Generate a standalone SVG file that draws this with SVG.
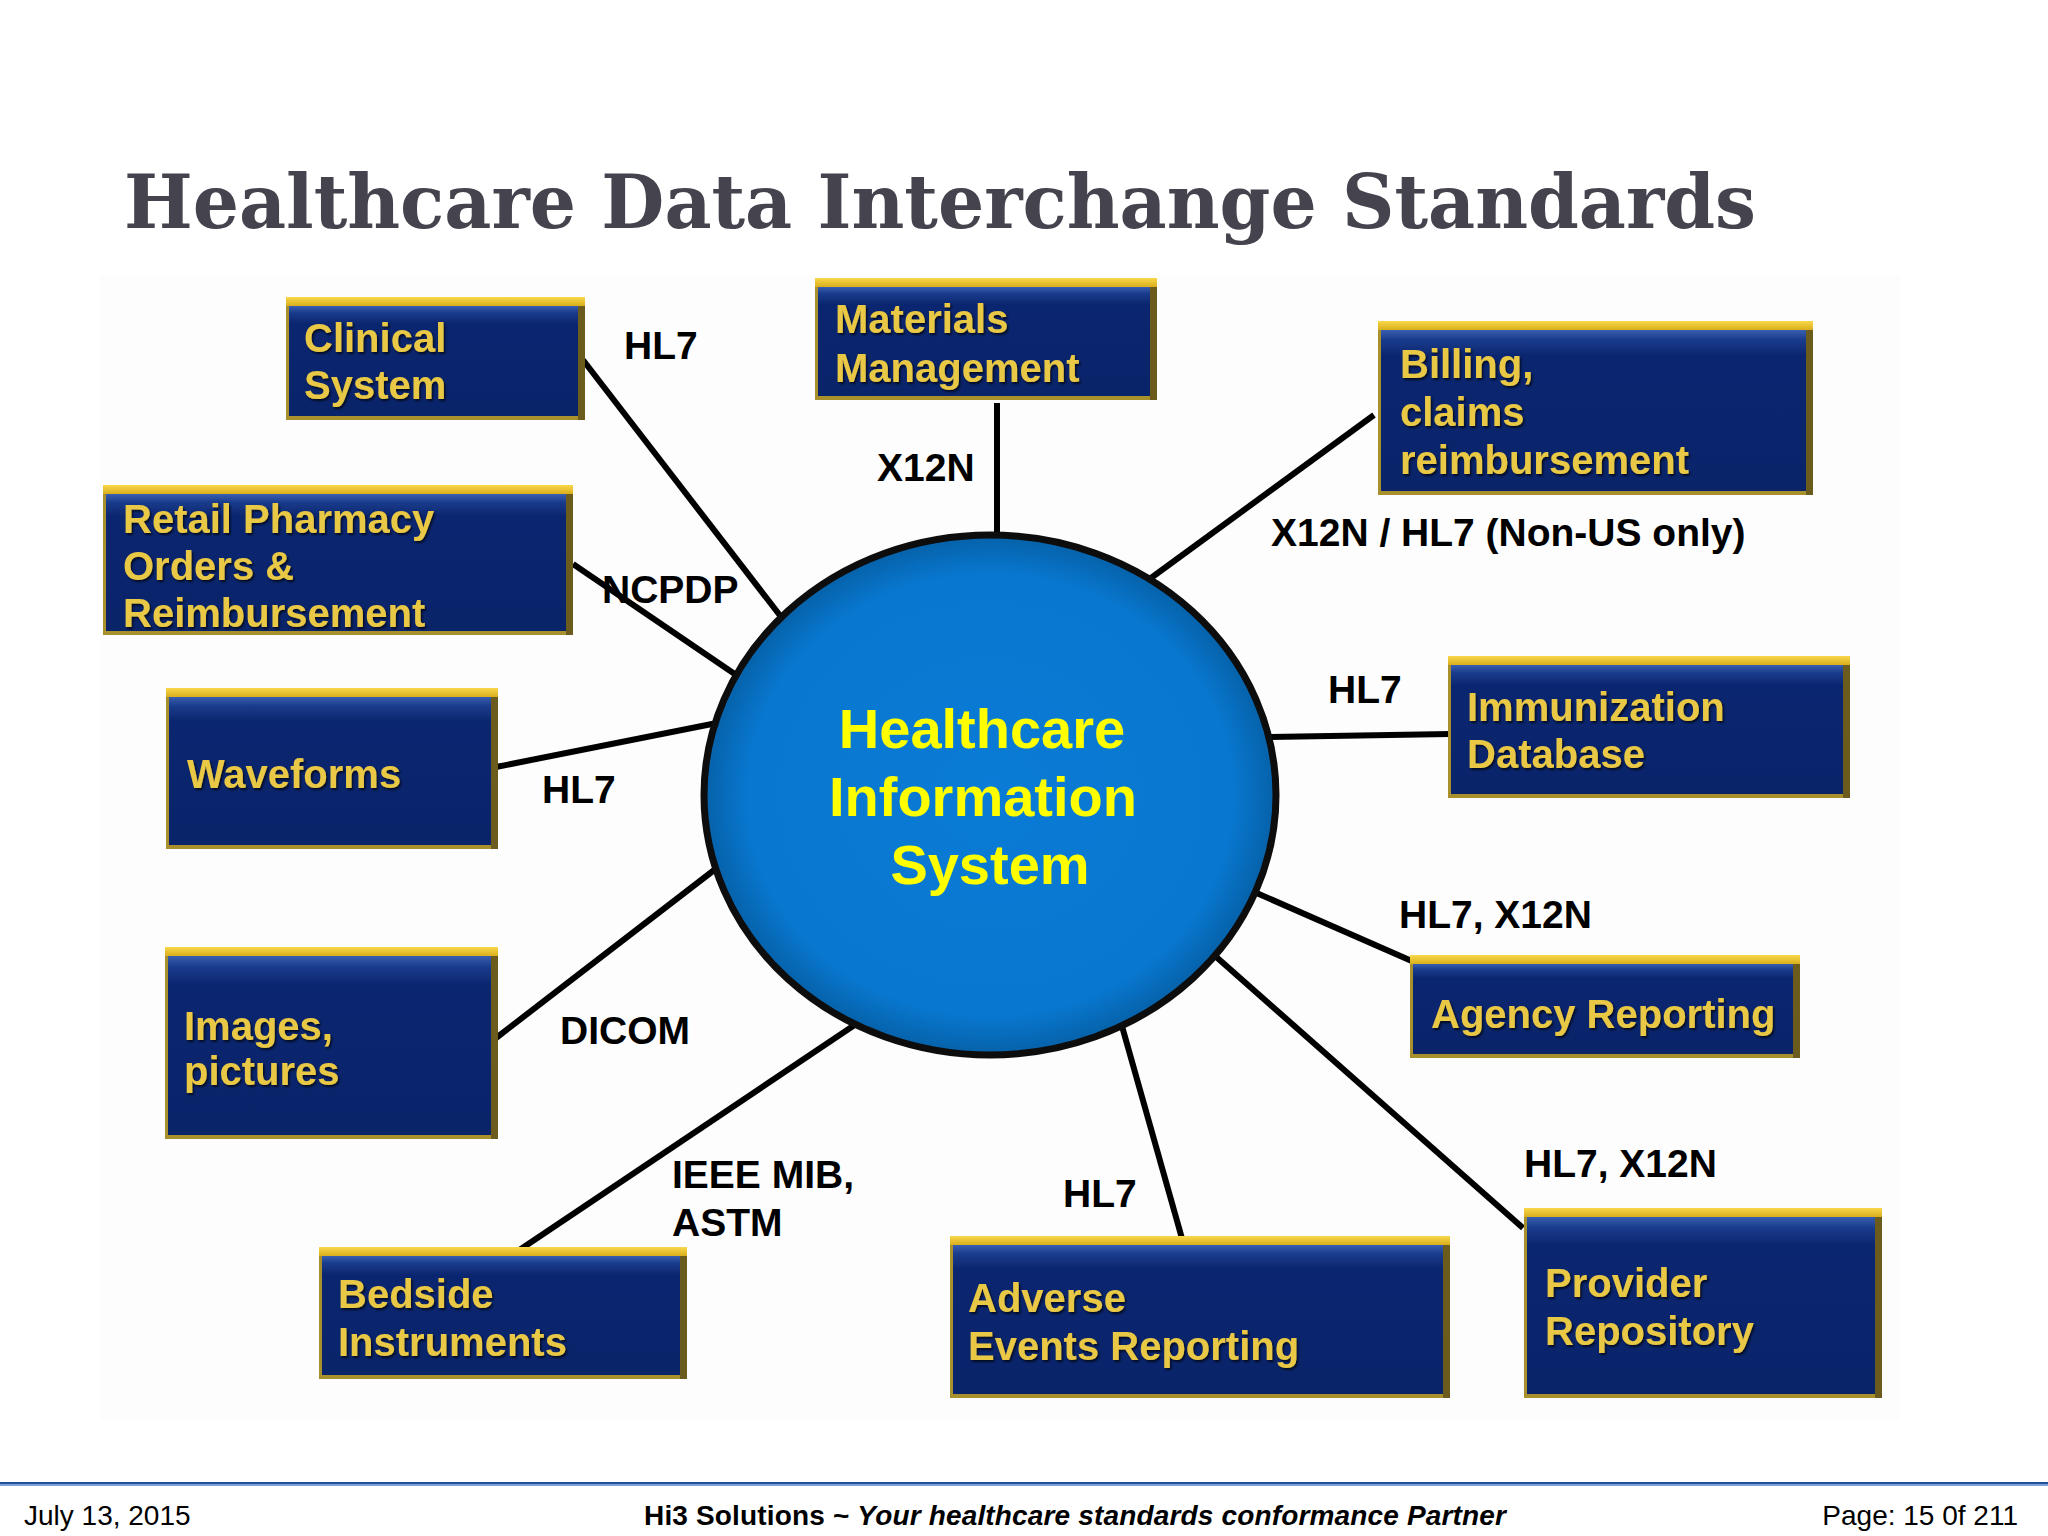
<svg xmlns="http://www.w3.org/2000/svg" width="2048" height="1536" viewBox="0 0 2048 1536">
<defs>
<linearGradient id="gold" x1="0" y1="0" x2="0" y2="1">
<stop offset="0" stop-color="#f9d84a"/><stop offset="1" stop-color="#d9ae1c"/>
</linearGradient>
<linearGradient id="navy" x1="0" y1="0" x2="0" y2="1">
<stop offset="0" stop-color="#3a5fb0"/><stop offset="0.06" stop-color="#1a3c8c"/><stop offset="0.16" stop-color="#0b2670"/><stop offset="1" stop-color="#0a246a"/>
</linearGradient>
<radialGradient id="ball" cx="0.5" cy="0.5" r="0.5">
<stop offset="0" stop-color="#0a7bd6"/><stop offset="0.85" stop-color="#0877cf"/><stop offset="1" stop-color="#0661a8"/>
</radialGradient>
<filter id="sh" x="-5%" y="-20%" width="110%" height="140%">
<feDropShadow dx="1.5" dy="2" stdDeviation="1" flood-color="#000" flood-opacity="0.7"/>
</filter>
</defs>
<style>
.frame{fill:#a8902c}
.rside{fill:#6b5b1c}
.top{fill:url(#gold)}
.inner{fill:url(#navy)}
.bt{font-family:"Liberation Sans",Arial,sans-serif;font-weight:bold;font-size:40px;fill:#e9c845;filter:url(#sh)}
.lbl{font-family:"Liberation Sans",Arial,sans-serif;font-weight:bold;font-size:39px;fill:#000}
.con{stroke:#000;stroke-width:6;fill:none}
.ct{font-family:"Liberation Sans",Arial,sans-serif;font-weight:bold;font-size:56px;fill:#ffff00;text-anchor:middle}
.ft{font-family:"Liberation Sans",Arial,sans-serif;font-size:28px;fill:#000}
</style>
<rect width="2048" height="1536" fill="#fff"/>
<rect x="100" y="275" width="1800" height="1145" fill="#fdfdfd"/>
<text x="124" y="228" font-family="DejaVu Serif, Liberation Serif, serif" font-weight="bold" font-size="75" fill="#45444e" textLength="1632" lengthAdjust="spacingAndGlyphs">Healthcare Data Interchange Standards</text>

<g id="connectors">
<line class="con" x1="583" y1="360" x2="785" y2="622"/>
<line class="con" x1="997" y1="403" x2="997" y2="545"/>
<line class="con" x1="1374" y1="415" x2="1140" y2="586"/>
<line class="con" x1="573" y1="564" x2="745" y2="681"/>
<line class="con" x1="496" y1="767" x2="722" y2="722"/>
<line class="con" x1="1450" y1="734" x2="1265" y2="737"/>
<line class="con" x1="496" y1="1038" x2="722" y2="864"/>
<line class="con" x1="1414" y1="962" x2="1252" y2="891"/>
<line class="con" x1="509" y1="1257" x2="865" y2="1018"/>
<line class="con" x1="1183" y1="1242" x2="1116" y2="1005"/>
<line class="con" x1="1523" y1="1228" x2="1205" y2="947"/>
</g>

<g id="labels">
<text class="lbl" x="624" y="359">HL7</text>
<text class="lbl" x="877" y="481">X12N</text>
<text class="lbl" x="1271" y="546" font-size="40">X12N / HL7 (Non-US only)</text>
<text class="lbl" x="602" y="603">NCPDP</text>
<text class="lbl" x="1328" y="703">HL7</text>
<text class="lbl" x="542" y="803">HL7</text>
<text class="lbl" x="1399" y="928">HL7, X12N</text>
<text class="lbl" x="560" y="1044">DICOM</text>
<text class="lbl" x="672" y="1188">IEEE MIB,</text>
<text class="lbl" x="672" y="1236">ASTM</text>
<text class="lbl" x="1063" y="1207">HL7</text>
<text class="lbl" x="1524" y="1177">HL7, X12N</text>
</g>

<g id="center">
<ellipse cx="990" cy="795" rx="286" ry="260" fill="url(#ball)" stroke="#0d0d0d" stroke-width="7"/>
<text class="ct" x="982" y="748">Healthcare</text>
<text class="ct" x="983" y="816">Information</text>
<text class="ct" x="990" y="884">System</text>
</g>

<g id="clinical">
<rect class="frame" x="286" y="297" width="299" height="123"/>
<rect class="rside" x="578" y="297" width="7" height="123"/>
<rect class="inner" x="289" y="306" width="289" height="110"/>
<rect class="top" x="286" y="297" width="299" height="9"/>
<text class="bt" x="304" y="352">Clinical</text>
<text class="bt" x="304" y="399">System</text>
</g>

<g id="materials">
<rect class="frame" x="815" y="278" width="342" height="122"/>
<rect class="rside" x="1150" y="278" width="7" height="122"/>
<rect class="inner" x="818" y="287" width="332" height="109"/>
<rect class="top" x="815" y="278" width="342" height="9"/>
<text class="bt" x="835" y="333">Materials</text>
<text class="bt" x="835" y="382">Management</text>
</g>

<g id="billing">
<rect class="frame" x="1378" y="321" width="435" height="174"/>
<rect class="rside" x="1806" y="321" width="7" height="174"/>
<rect class="inner" x="1381" y="330" width="425" height="161"/>
<rect class="top" x="1378" y="321" width="435" height="9"/>
<text class="bt" x="1400" y="378">Billing,</text>
<text class="bt" x="1400" y="426">claims</text>
<text class="bt" x="1400" y="474">reimbursement</text>
</g>

<g id="retail">
<rect class="frame" x="103" y="485" width="470" height="150"/>
<rect class="rside" x="566" y="485" width="7" height="150"/>
<rect class="inner" x="106" y="494" width="460" height="137"/>
<rect class="top" x="103" y="485" width="470" height="9"/>
<text class="bt" x="123" y="533">Retail Pharmacy</text>
<text class="bt" x="123" y="580">Orders &amp;</text>
<text class="bt" x="123" y="627">Reimbursement</text>
</g>

<g id="waveforms">
<rect class="frame" x="166" y="688" width="332" height="161"/>
<rect class="rside" x="491" y="688" width="7" height="161"/>
<rect class="inner" x="169" y="697" width="322" height="148"/>
<rect class="top" x="166" y="688" width="332" height="9"/>
<text class="bt" x="187" y="788">Waveforms</text>
</g>

<g id="immunization">
<rect class="frame" x="1448" y="656" width="402" height="142"/>
<rect class="rside" x="1843" y="656" width="7" height="142"/>
<rect class="inner" x="1451" y="665" width="392" height="129"/>
<rect class="top" x="1448" y="656" width="402" height="9"/>
<text class="bt" x="1467" y="721">Immunization</text>
<text class="bt" x="1467" y="768">Database</text>
</g>

<g id="images">
<rect class="frame" x="165" y="947" width="333" height="192"/>
<rect class="rside" x="491" y="947" width="7" height="192"/>
<rect class="inner" x="168" y="956" width="323" height="179"/>
<rect class="top" x="165" y="947" width="333" height="9"/>
<text class="bt" x="184" y="1040">Images,</text>
<text class="bt" x="184" y="1085">pictures</text>
</g>

<g id="agency">
<rect class="frame" x="1410" y="955" width="390" height="103"/>
<rect class="rside" x="1793" y="955" width="7" height="103"/>
<rect class="inner" x="1413" y="964" width="380" height="90"/>
<rect class="top" x="1410" y="955" width="390" height="9"/>
<text class="bt" x="1431" y="1028">Agency Reporting</text>
</g>

<g id="bedside">
<rect class="frame" x="319" y="1247" width="368" height="132"/>
<rect class="rside" x="680" y="1247" width="7" height="132"/>
<rect class="inner" x="322" y="1256" width="358" height="119"/>
<rect class="top" x="319" y="1247" width="368" height="9"/>
<text class="bt" x="338" y="1308">Bedside</text>
<text class="bt" x="338" y="1356">Instruments</text>
</g>

<g id="adverse">
<rect class="frame" x="950" y="1236" width="500" height="162"/>
<rect class="rside" x="1443" y="1236" width="7" height="162"/>
<rect class="inner" x="953" y="1245" width="490" height="149"/>
<rect class="top" x="950" y="1236" width="500" height="9"/>
<text class="bt" x="968" y="1312">Adverse</text>
<text class="bt" x="968" y="1360">Events Reporting</text>
</g>

<g id="provider">
<rect class="frame" x="1524" y="1208" width="358" height="190"/>
<rect class="rside" x="1875" y="1208" width="7" height="190"/>
<rect class="inner" x="1527" y="1217" width="348" height="177"/>
<rect class="top" x="1524" y="1208" width="358" height="9"/>
<text class="bt" x="1545" y="1297">Provider</text>
<text class="bt" x="1545" y="1345">Repository</text>
</g>

<g id="footer">
<rect x="0" y="1482" width="2048" height="2" fill="#1d4f9c"/>
<rect x="0" y="1484" width="2048" height="2" fill="#7aa0d4"/>
<text class="ft" x="24" y="1525">July 13, 2015</text>
<text class="ft" x="644" y="1525" font-weight="bold" textLength="862">Hi3 Solutions ~ <tspan font-style="italic">Your healthcare standards conformance Partner</tspan></text>
<text class="ft" x="2018" y="1525" text-anchor="end">Page: 15 0f 211</text>
</g>
</svg>
